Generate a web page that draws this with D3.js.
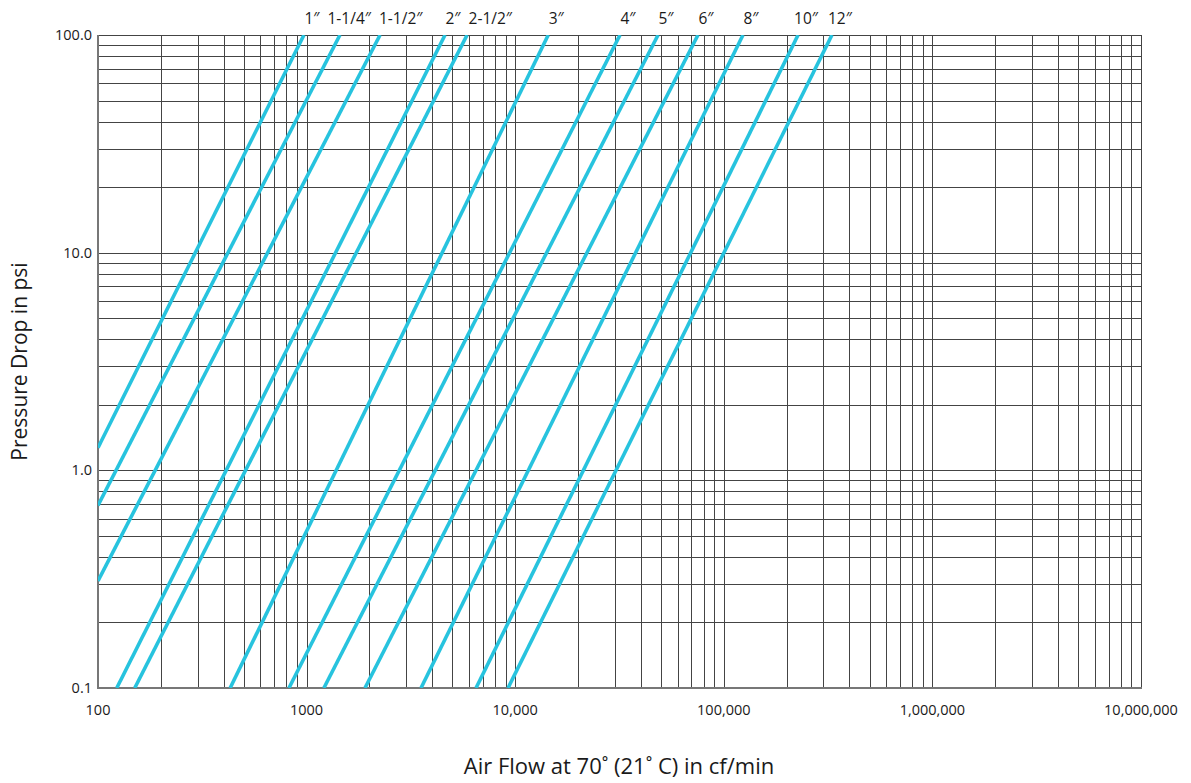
<!DOCTYPE html>
<html>
<head>
<meta charset="utf-8">
<script src="https://cdn.jsdelivr.net/npm/d3@7"></script>
<style>
  html, body { margin: 0; padding: 0; background: #fff; }
  svg { display: block; }
  text { font-family: "Open Sans", "Noto Sans", sans-serif; fill: #1a1a1a; }
</style>
</head>
<body>
<svg id="chart" width="1191" height="783"></svg>
<script>
// ---- data ----
const pipeSizes = ["1″", "1-1/4″", "1-1/2″", "2″", "2-1/2″", "3″", "4″", "5″", "6″", "8″", "10″", "12″"];
// flow (cf/min) where each line reaches 100 psi
const flowAtTop = [971, 1445, 2250, 4610, 5880, 14400, 31800, 48400, 75200, 123600, 227000, 330000];
// lower end point of each line (flow, psi)
const lowEndFlow = [100, 100, 100, 123, 150, 430, 823, 1210, 1905, 3535, 6490, 9240];
const lowEndPsi = [1.27, 0.69, 0.31, 0.1, 0.1, 0.1, 0.1, 0.1, 0.1, 0.1, 0.1, 0.1];
const topPsi = 100;
const xTickValues = [100, 1000, 10000, 100000, 1000000, 10000000];
const xTickLabels = ["100", "1000", "10,000", "100,000", "1,000,000", "10,000,000"];
const yTickValues = [0.1, 1, 10, 100];
const yTickLabels = ["0.1", "1.0", "10.0", "100.0"];

// ---- layout ----
const L = 98, R = 1141, T = 35, B = 688;
const svg = d3.select("#chart");
const x = d3.scaleLog().domain([100, 1e7]).range([L, R]);
const y = d3.scaleLog().domain([0.1, 100]).range([B, T]);

// minor + major grid values
const xGrid = [];
for (let d = 2; d < 7; d++) for (let m = 1; m <= 9; m++) xGrid.push(m * Math.pow(10, d));
xGrid.push(1e7);
const yGrid = [];
for (let d = -1; d < 2; d++) for (let m = 1; m <= 9; m++) yGrid.push(+(m * Math.pow(10, d)).toPrecision(3));
yGrid.push(100);

const grid = svg.append("g").attr("stroke", "#444").attr("stroke-width", 1);
grid.selectAll("line.v").data(xGrid).join("line")
  .attr("class", "v")
  .attr("x1", d => Math.round(x(d)) + 0.5).attr("x2", d => Math.round(x(d)) + 0.5)
  .attr("y1", T).attr("y2", B);
grid.selectAll("line.h").data(yGrid).join("line")
  .attr("class", "h")
  .attr("y1", d => Math.round(y(d)) + 0.5).attr("y2", d => Math.round(y(d)) + 0.5)
  .attr("x1", L).attr("x2", R);

// frame: left and bottom heavier grey
svg.append("line").attr("x1", L).attr("x2", L).attr("y1", T).attr("y2", B + 1)
  .attr("stroke", "#777").attr("stroke-width", 2);
svg.append("line").attr("x1", L).attr("x2", R + 1).attr("y1", B).attr("y2", B)
  .attr("stroke", "#777").attr("stroke-width", 2);

// clip for pipe lines
svg.append("clipPath").attr("id", "plotClip")
  .append("rect").attr("x", L).attr("y", T).attr("width", R - L).attr("height", B - T);

const lineGen = d3.line().x(d => x(d[0])).y(d => y(d[1]));
const series = pipeSizes.map((s, i) => ({
  name: s,
  pts: [[lowEndFlow[i], lowEndPsi[i]], [flowAtTop[i], topPsi]]
}));
svg.append("g").attr("clip-path", "url(#plotClip)")
  .selectAll("path").data(series).join("path")
  .attr("d", d => lineGen(d.pts))
  .attr("fill", "none")
  .attr("stroke", "#27C3DE")
  .attr("stroke-width", 3.6)
  .attr("stroke-linecap", "butt");

// pipe size labels above the chart with simple overlap avoidance
const lblG = svg.append("g");
let prevRight = -Infinity;
series.forEach((s, i) => {
  const t = lblG.append("text").text(s.name)
    .attr("font-size", 15.5).attr("text-anchor", "middle").attr("y", 24);
  const w = t.node().getComputedTextLength();
  let cx = x(flowAtTop[i]) + 8;
  if (cx - w / 2 < prevRight + 8) cx = prevRight + 8 + w / 2;
  t.attr("x", cx);
  prevRight = cx + w / 2;
});

// x tick labels
svg.append("g").selectAll("text").data(xTickValues).join("text")
  .attr("x", d => x(d)).attr("y", 715)
  .attr("text-anchor", "middle").attr("font-size", 14.5)
  .text((d, i) => xTickLabels[i]);

// y tick labels
svg.append("g").selectAll("text").data(yTickValues).join("text")
  .attr("x", 92).attr("y", d => y(d) + 5)
  .attr("text-anchor", "end").attr("font-size", 14.5)
  .text((d, i) => yTickLabels[i]);

// axis titles
svg.append("text")
  .attr("transform", `translate(27, ${(T + B) / 2}) rotate(-90)`)
  .attr("text-anchor", "middle").attr("font-size", 21)
  .text("Pressure Drop in psi");
svg.append("text")
  .attr("x", 619).attr("y", 774)
  .attr("text-anchor", "middle").attr("font-size", 22)
  .text("Air Flow at 70˚ (21˚ C) in cf/min");
</script>
</body>
</html>
